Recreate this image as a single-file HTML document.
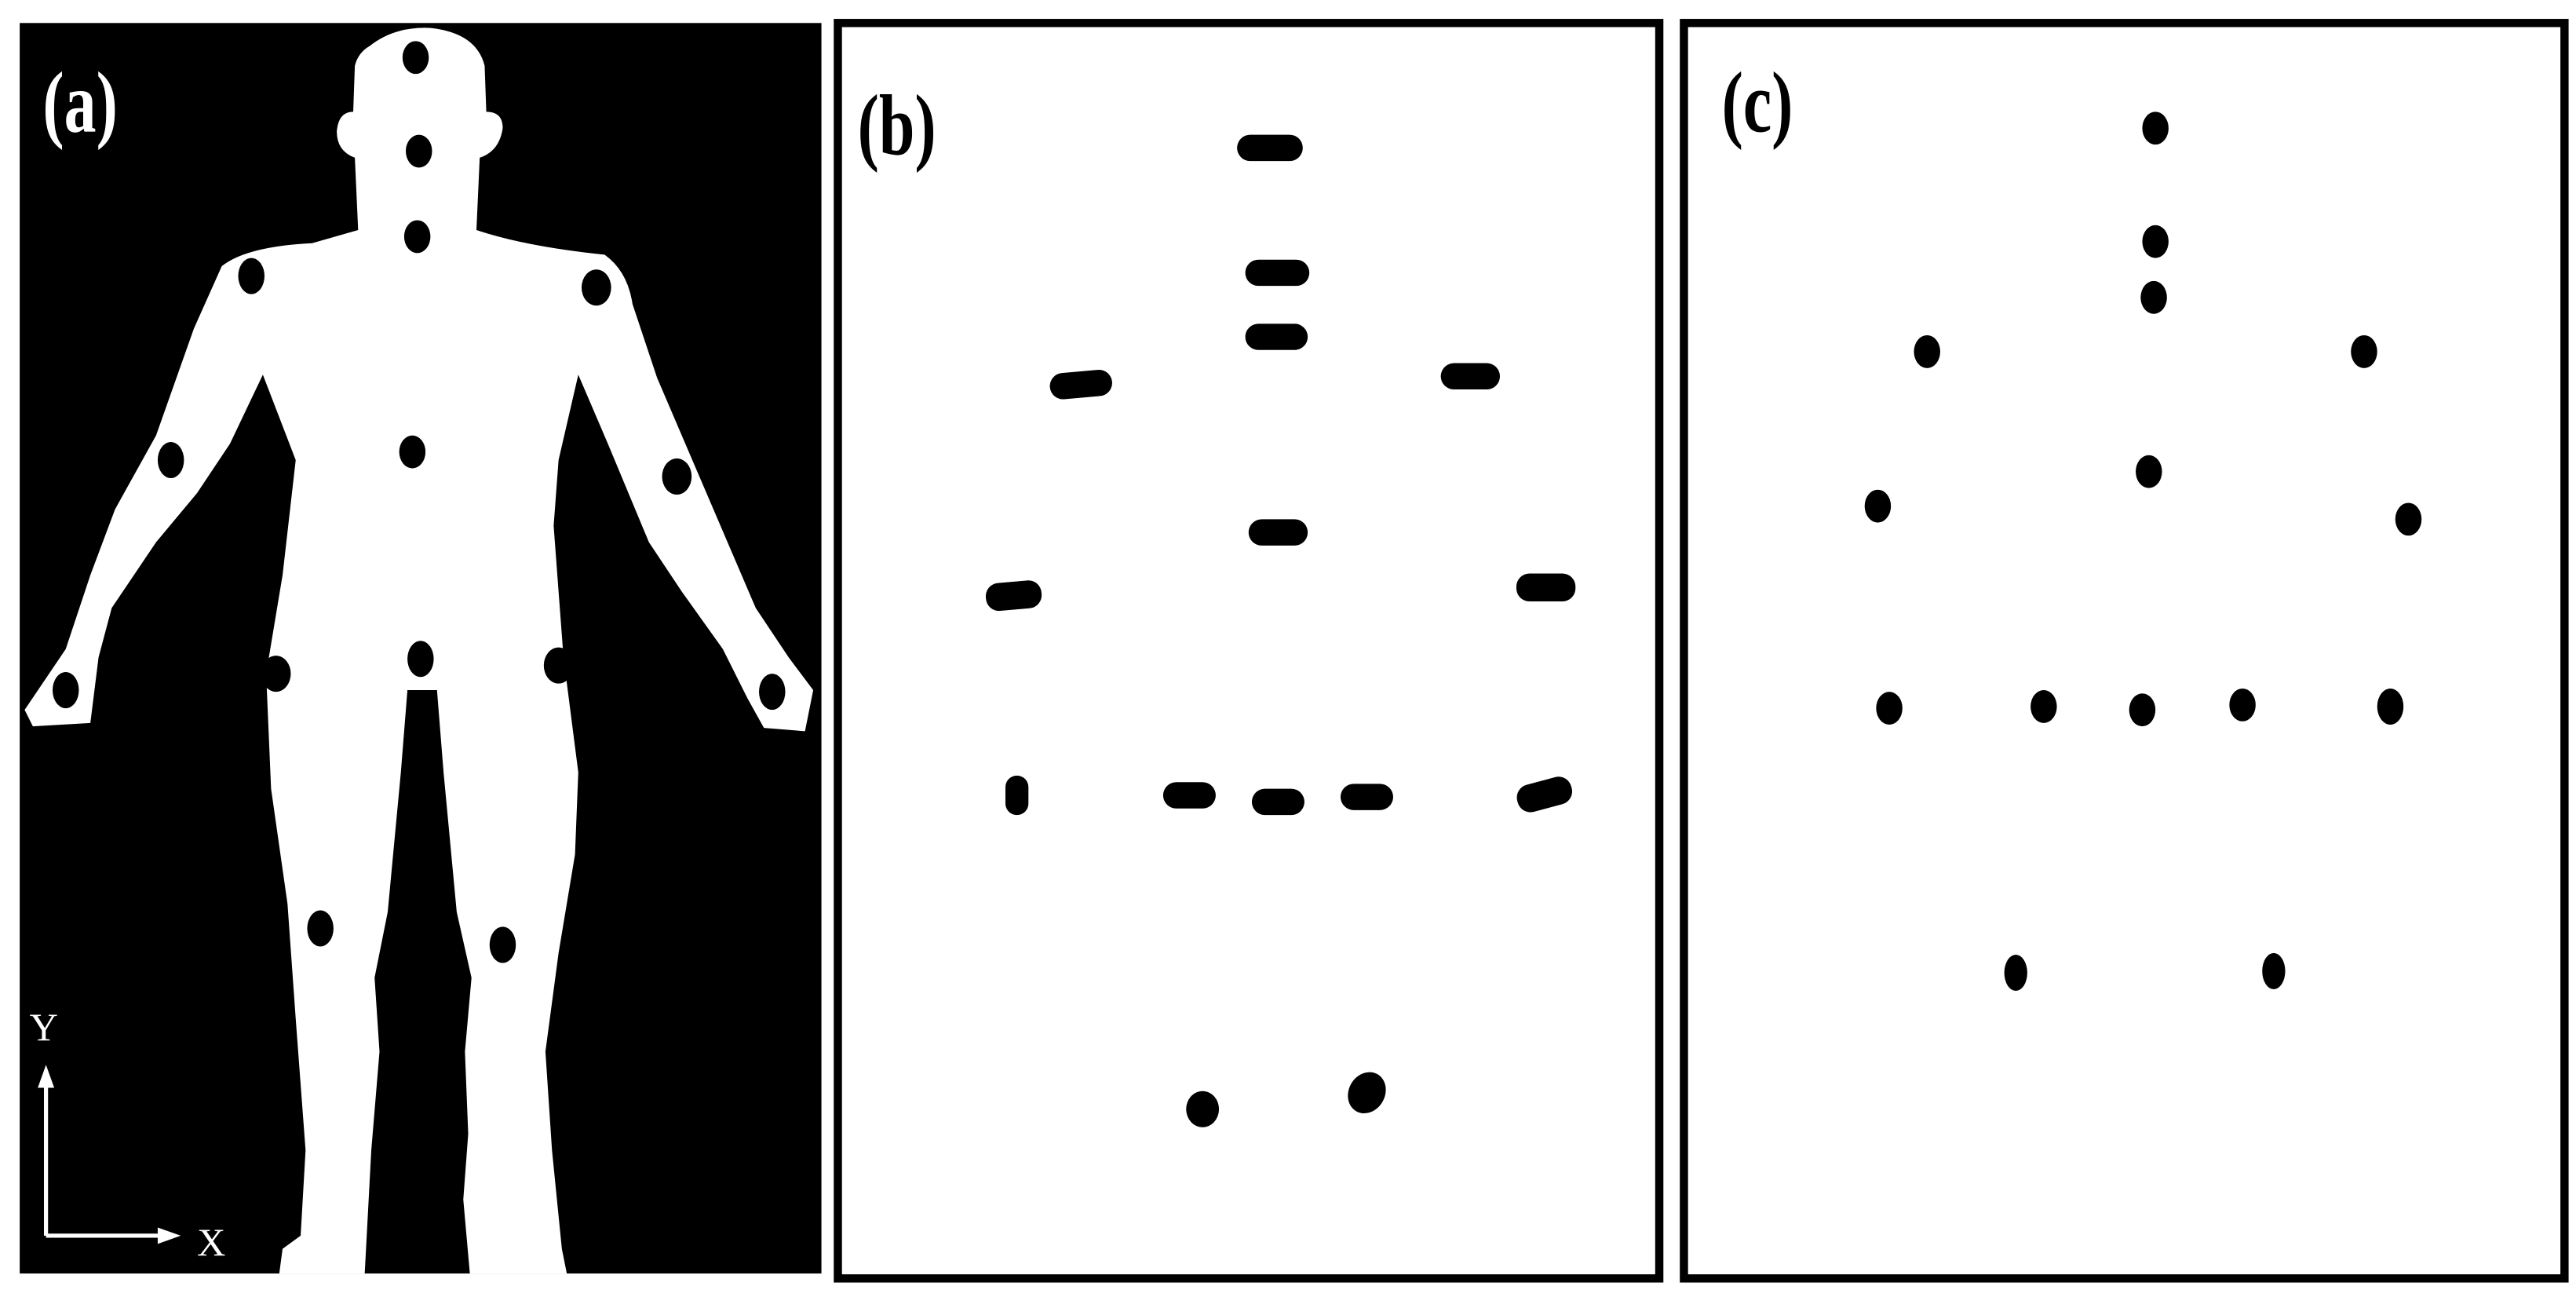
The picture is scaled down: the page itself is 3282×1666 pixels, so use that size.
<!DOCTYPE html>
<html><head><meta charset="utf-8"><style>html,body{margin:0;padding:0;background:#fff}svg{display:block}</style></head>
<body>
<svg width="3282" height="1666" viewBox="0 0 1568 796" preserveAspectRatio="none" xmlns="http://www.w3.org/2000/svg">
<rect x="0" y="0" width="1568" height="796" fill="#fff"/>
<rect x="12" y="14" width="488" height="761" fill="#000"/>
<path fill="#fff" d="M225,28 Q240,16 262,17 Q290,20 295,40 L296,68 Q306,68 306,78 Q304,92 292,96 L290,140 Q320,150 368,155 Q382,165 385,185 L400,230 L430,300 L460,370 L480,400 L495,420 L490,445 L465,443 L455,425 L440,395 L415,360 L395,330 L370,270 L352,228 L340,280 L337,320 L343,400 L352,470 L350,520 L340,580 L332,640 L336,700 L342,760 L345,775 L286,775 L282,730 L285,690 L283,640 L287,595 L278,555 L270,470 L266,420 L248,420 L244,470 L236,555 L228,595 L231,640 L226,700 L222,775 L170,775 L172,760 L183,752 L186,700 L180,620 L175,550 L165,480 L162,410 L172,350 L180,280 L160,228 L140,270 L120,300 L95,330 L68,370 L60,400 L55,440 L20,442 L15,432 L40,395 L55,350 L70,310 L95,265 L118,200 L135,162 Q150,150 190,148 L218,140 L216,96 Q205,92 205,80 Q206,68 215,68 L216,40 Q218,32 225,28 Z"/>
<g fill="#000">
<ellipse cx="253" cy="35" rx="8" ry="10"/><ellipse cx="255" cy="92" rx="8" ry="10"/><ellipse cx="254" cy="144" rx="8" ry="10"/>
<ellipse cx="153" cy="168" rx="8" ry="11"/><ellipse cx="363" cy="175" rx="9" ry="11"/><ellipse cx="104" cy="280" rx="8" ry="11"/>
<ellipse cx="412" cy="290" rx="9" ry="11"/><ellipse cx="251" cy="275" rx="8" ry="10"/><ellipse cx="40" cy="420" rx="8" ry="11"/>
<ellipse cx="470" cy="421" rx="8" ry="11"/><ellipse cx="168" cy="410" rx="9" ry="11"/><ellipse cx="256" cy="401" rx="8" ry="11"/>
<ellipse cx="340" cy="405" rx="9" ry="11"/><ellipse cx="195" cy="565" rx="8" ry="11"/><ellipse cx="306" cy="575" rx="8" ry="11"/>
</g>
<text transform="translate(26,80) scale(0.85,1.15)" font-family="'Liberation Serif', serif" font-weight="bold" font-size="46" fill="#fff">(a)</text>
<text x="18" y="633" font-family="'Liberation Serif', serif" font-size="24" fill="#fff">Y</text>
<text x="120" y="764" font-family="'Liberation Serif', serif" font-size="24" fill="#fff">X</text>
<path d="M28,752 L28,655 M28,752 L100,752" stroke="#fff" stroke-width="2.5" fill="none"/>
<path d="M23,662 L28,648 L33,662 Z M96,747 L110,752 L96,757 Z" fill="#fff"/>

<rect x="510" y="14" width="500" height="764" fill="#fff" stroke="#000" stroke-width="5"/>
<text transform="translate(522,94) scale(0.85,1.15)" font-family="'Liberation Serif', serif" font-weight="bold" font-size="46" fill="#000">(b)</text>
<g fill="#000">
<rect x="753" y="82" width="40" height="16" rx="8"/><rect x="758" y="158" width="39" height="16" rx="8"/><rect x="758" y="197" width="38" height="16" rx="8"/>
<rect x="639" y="226" width="38" height="16" rx="8" transform="rotate(-5 658 234)"/><rect x="877" y="221" width="36" height="16" rx="8"/>
<rect x="760" y="316" width="36" height="16" rx="8"/><rect x="600" y="354" width="34" height="17" rx="8" transform="rotate(-5 617 362)"/>
<rect x="923" y="349" width="36" height="17" rx="8"/><rect x="612" y="472" width="14" height="24" rx="7"/>
<rect x="708" y="476" width="32" height="16" rx="8"/><rect x="762" y="480" width="32" height="16" rx="8"/><rect x="816" y="477" width="32" height="16" rx="8"/>
<rect x="923" y="475" width="34" height="17" rx="8" transform="rotate(-15 940 483)"/>
<ellipse cx="732" cy="675" rx="10" ry="11"/><ellipse cx="832" cy="665" rx="11" ry="13" transform="rotate(30 832 665)"/>
</g>

<rect x="1025" y="14" width="536" height="764" fill="#fff" stroke="#000" stroke-width="5"/>
<text transform="translate(1048,80) scale(0.85,1.15)" font-family="'Liberation Serif', serif" font-weight="bold" font-size="46" fill="#000">(c)</text>
<g fill="#000">
<ellipse cx="1312" cy="78" rx="8" ry="10"/><ellipse cx="1312" cy="147" rx="8" ry="10"/><ellipse cx="1311" cy="181" rx="8" ry="10"/>
<ellipse cx="1173" cy="214" rx="8" ry="10"/><ellipse cx="1439" cy="214" rx="8" ry="10"/><ellipse cx="1308" cy="287" rx="8" ry="10"/>
<ellipse cx="1143" cy="308" rx="8" ry="10"/><ellipse cx="1466" cy="316" rx="8" ry="10"/><ellipse cx="1150" cy="431" rx="8" ry="10"/>
<ellipse cx="1244" cy="430" rx="8" ry="10"/><ellipse cx="1304" cy="432" rx="8" ry="10"/><ellipse cx="1365" cy="429" rx="8" ry="10"/>
<ellipse cx="1455" cy="430" rx="8" ry="11"/><ellipse cx="1227" cy="592" rx="7" ry="11"/><ellipse cx="1384" cy="591" rx="7" ry="11"/>
</g>
</svg>
</body></html>
